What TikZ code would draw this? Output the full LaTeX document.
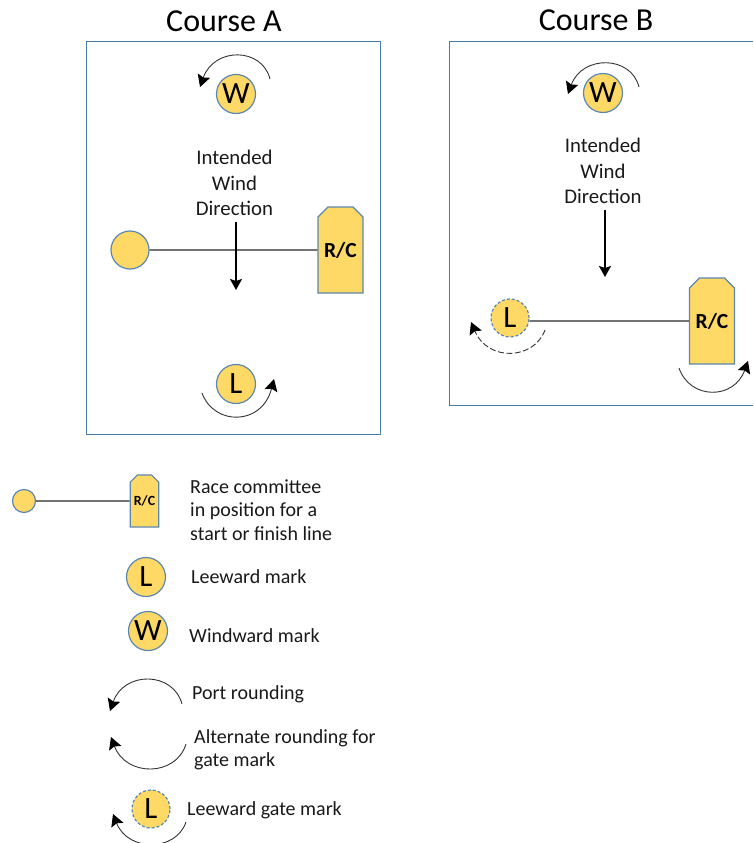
\documentclass[tikz,border=0pt]{standalone}
\usepackage{fontspec}
\setmainfont{Carlito}
\usetikzlibrary{arrows.meta,shapes.misc}
\definecolor{markfill}{HTML}{FFD966}
\definecolor{markline}{HTML}{5B87AE}
\definecolor{framecol}{HTML}{4A7BA6}
\tikzset{
  frameline/.style={draw=framecol,line width=1pt},
  markdisc/.style={circle,draw=markline,fill=markfill,line width=1.2pt,inner sep=0pt,text=black},
  bigmark/.style={markdisc,minimum size=39pt,font=\fontsize{31}{31}\selectfont},
  gatemark/.style={markdisc,minimum size=38pt,dash pattern=on 3pt off 2pt,font=\fontsize{31}{31}\selectfont},
  plaindisc/.style={markdisc,minimum size=38pt},
  boat/.style={chamfered rectangle,chamfered rectangle corners={north west,north east},chamfered rectangle xsep=5pt,chamfered rectangle ysep=5pt,draw=markline,fill=markfill,line width=1.2pt,inner sep=0pt,minimum width=45pt,minimum height=86pt,font=\fontsize{21.5}{21.5}\selectfont\bfseries},
  smallboat/.style={boat,minimum width=27pt,minimum height=52pt,chamfered rectangle xsep=3.5pt,chamfered rectangle ysep=3.5pt,font=\fontsize{14}{14}\selectfont\bfseries},
  startline/.style={draw=black!85,line width=1.2pt},
  windarrow/.style={draw=black,line width=1.9pt,-{Stealth[length=11pt,width=12pt,inset=2pt]}},
  rounding/.style={draw=black!80,line width=.9pt,-{Stealth[length=12pt,width=13pt,inset=2pt,color=black]}},
  dashround/.style={rounding,dash pattern=on 6pt off 2.5pt},
  windtext/.style={align=center,font=\fontsize{20.8}{25.5}\selectfont,inner sep=0pt,text=black!90},
  titletext/.style={font=\fontsize{32}{32}\selectfont,inner sep=0pt},
  legendtext/.style={anchor=west,align=left,font=\fontsize{20}{23.5}\selectfont,inner sep=0pt,text=black!90}
}
\begin{document}
\begin{tikzpicture}[x=1pt,y=-1pt]
\useasboundingbox (0,0) rectangle (753,843);
\node[titletext] (titleA) at (224,21) {Course A};
\node[titletext] (titleB) at (596,20) {Course B};
\path[frameline] (86,42) rectangle (380,434);
\path[frameline] (753,42) -- (449,42) -- (449,405) -- (753,405);
% Course A
\node[bigmark] (wA) at (236,94) {W};
\node[bigmark] (lA) at (236,384) {L};
\node[plaindisc] (sA) at (130,250) {};
\node[boat] (rcA) at (340.5,250) {R/C};
\draw[startline] (sA) -- (rcA);
\node[windtext] (tA) at (234.5,183) {Intended\\Wind\\Direction};
\coordinate (wAa) at (236,222);
\coordinate (wAb) at (236,290);
\draw[windarrow] (wAa) -- (wAb);
\coordinate (r1a) at (270,79);
\coordinate (r1b) at (200,87);
\draw[rounding] (r1a) .. controls (262,47) and (214,47) .. (r1b);
\coordinate (r2a) at (202,393);
\coordinate (r2b) at (274,379);
\draw[rounding] (r2a) .. controls (214,426) and (262,426) .. (r2b);
% Course B
\node[bigmark] (wB) at (603,93) {W};
\node[gatemark] (lB) at (510,318) {L};
\node[boat] (rcB) at (712,321) {R/C};
\draw[startline] (lB.east |- rcB) -- (rcB);
\node[windtext] (tB) at (603,171) {Intended\\Wind\\Direction};
\coordinate (wBa) at (605,210);
\coordinate (wBb) at (605,277);
\draw[windarrow] (wBa) -- (wBb);
\coordinate (r3a) at (639,87);
\coordinate (r3b) at (568,94);
\draw[rounding] (r3a) .. controls (631,55) and (582,55) .. (r3b);
\coordinate (r4a) at (545,330);
\coordinate (r4b) at (471,322);
\draw[dashround] (r4a) .. controls (534,360) and (488,362) .. (r4b);
\coordinate (r5a) at (679,368);
\coordinate (r5b) at (748,361);
\draw[rounding] (r5a) .. controls (690,400) and (734,400) .. (r5b);
% Legend
\node[markdisc,minimum size=23pt] (sL) at (24,501) {};
\node[smallboat] (rcL) at (144.5,501) {R/C};
\draw[startline] (sL) -- (rcL);
\node[legendtext] (t1) at (190,510) {Race committee\\in position for a\\start or finish line};
\node[bigmark] (lL) at (146,577) {L};
\node[legendtext] (t2) at (191,576.5) {Leeward mark};
\node[bigmark] (wL) at (148,631) {W};
\node[legendtext] (t3) at (189,636) {Windward mark};
\coordinate (r6a) at (182,704);
\coordinate (r6b) at (110,711);
\draw[rounding] (r6a) .. controls (173,671) and (124,671) .. (r6b);
\node[legendtext] (t4) at (192,694.5) {Port rounding};
\coordinate (r7a) at (186,744);
\coordinate (r7b) at (111,737);
\draw[rounding] (r7a) .. controls (176,777) and (126,777) .. (r7b);
\node[legendtext] (t5) at (194,750) {Alternate rounding for\\gate mark};
\node[gatemark] (lG) at (151,809) {L};
\node[legendtext] (t6) at (187,810.5) {Leeward gate mark};
\coordinate (r8a) at (186,822);
\coordinate (r8b) at (113,814);
\draw[rounding] (r8a) .. controls (176,852) and (128,852) .. (r8b);
\end{tikzpicture}
\end{document}
